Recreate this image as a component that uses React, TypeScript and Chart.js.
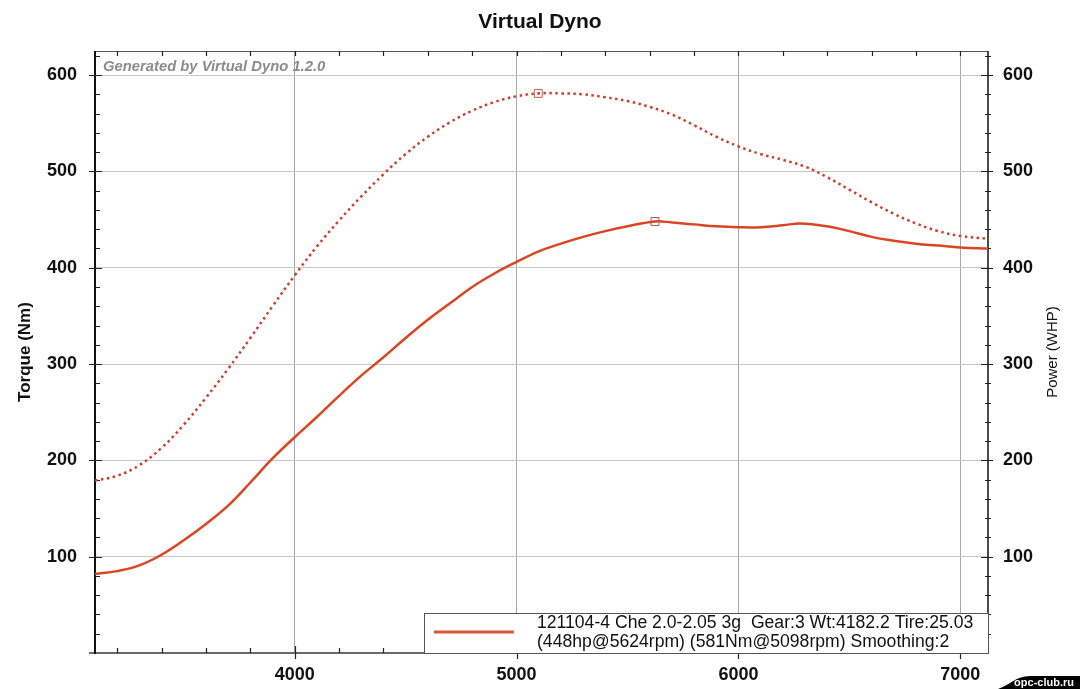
import React, { useEffect, useRef } from "react";
import { Chart, registerables } from "chart.js";

Chart.register(...registerables);

const chartTitle = "Virtual Dyno";
const watermarkText = "Generated by Virtual Dyno 1.2.0";
const legendLines = [
  "121104-4 Che 2.0-2.05 3g  Gear:3 Wt:4182.2 Tire:25.03",
  "(448hp@5624rpm) (581Nm@5098rpm) Smoothing:2",
];
const leftAxisTitle = "Torque (Nm)";
const rightAxisTitle = "Power (WHP)";
const badgeText = "opc-club.ru";

const torqueRpm = [
  3100, 3200, 3300, 3400, 3500, 3600, 3700, 3800, 3900, 4000, 4100, 4200, 4300, 4400, 4500, 4600, 4700, 4800,
  4900, 5000, 5098, 5200, 5300, 5400, 5500, 5600, 5700, 5800, 5900, 6000, 6100, 6200, 6300, 6400, 6500, 6600,
  6700, 6800, 6900, 7000, 7125,
];
const torqueNm = [
  179, 184, 195, 213, 237, 265, 295, 327, 360, 392, 422, 449, 474, 497, 518, 536, 551, 563,
  572, 578, 581, 581, 580, 577, 573, 567, 559, 548, 536, 526, 518, 512, 505, 494, 481, 468,
  456, 446, 438, 433, 430,
];
const powerRpm = [
  3100, 3200, 3300, 3400, 3500, 3600, 3700, 3800, 3900, 4000, 4100, 4200, 4300, 4400, 4500, 4600, 4700, 4800,
  4900, 5000, 5100, 5200, 5300, 5400, 5500, 5624, 5700, 5800, 5900, 6000, 6100, 6200, 6280, 6400, 6500, 6600,
  6700, 6800, 6900, 7000, 7125,
];
const powerHp = [
  82, 85, 91, 102, 117, 134, 153, 177, 202, 224, 245, 267, 288, 307, 327, 346, 363, 380,
  394, 406, 417, 425, 432, 438, 443, 448, 447, 445, 443, 442, 442, 444, 446, 443, 438, 432,
  428, 425, 423, 421, 420,
];
const torquePeakRpm = 5098;
const powerPeakRpm = 5624;

const xTickValues = [4000, 5000, 6000, 7000];
const yTickValues = [100, 200, 300, 400, 500, 600];
const xMin = 3100;
const xMax = 7125;
const yMin = 0;
const yMax = 625;
const xMinorStep = 200;
const xMajorStep = 1000;
const yMinorStep = 20;
const yMajorStep = 100;

const FONT = "'Liberation Sans', Arial, sans-serif";

const decorPlugin = {
  id: "decor",
  beforeDatasetsDraw(chart: any) {
    const ctx = chart.ctx;
    const { left, right, top, bottom } = chart.chartArea;
    ctx.save();
    // watermark
    ctx.font = `italic bold 14.8px ${FONT}`;
    ctx.fillStyle = "#8c8c8c";
    ctx.textAlign = "left";
    ctx.textBaseline = "alphabetic";
    ctx.fillText(watermarkText, left + 8, top + 20);

    // axis lines
    ctx.lineCap = "butt";
    ctx.strokeStyle = "#555";
    ctx.lineWidth = 1;
    ctx.beginPath();
    ctx.moveTo(left, top + 0.5);
    ctx.lineTo(right, top + 0.5);
    ctx.stroke();
    ctx.strokeStyle = "#6a6a6a";
    ctx.lineWidth = 2;
    ctx.beginPath();
    ctx.moveTo(left - 6, bottom);
    ctx.lineTo(right, bottom);
    ctx.stroke();
    ctx.strokeStyle = "#111";
    ctx.lineWidth = 2;
    ctx.beginPath();
    ctx.moveTo(left, top);
    ctx.lineTo(left, bottom + 1);
    ctx.stroke();
    ctx.lineWidth = 1.5;
    ctx.beginPath();
    ctx.moveTo(right, top);
    ctx.lineTo(right, bottom + 1);
    ctx.stroke();

    // x ticks (bottom & top)
    const xs = chart.scales.x;
    const ys = chart.scales.y;
    ctx.lineWidth = 1.2;
    ctx.strokeStyle = "#222";
    for (let v = Math.ceil(xMin / xMinorStep) * xMinorStep; v <= xMax; v += xMinorStep) {
      const px = Math.round(xs.getPixelForValue(v)) + 0.5;
      const major = v % xMajorStep === 0;
      ctx.beginPath();
      if (major) {
        ctx.moveTo(px, bottom - 7);
        ctx.lineTo(px, bottom + 6);
        ctx.moveTo(px, top);
        ctx.lineTo(px, top + 5);
      } else {
        ctx.moveTo(px, bottom - 5);
        ctx.lineTo(px, bottom);
        ctx.moveTo(px, top);
        ctx.lineTo(px, top + 5);
      }
      ctx.stroke();
    }
    for (let v = yMinorStep; v <= yMax; v += yMinorStep) {
      const py = Math.round(ys.getPixelForValue(v)) + 0.5;
      const major = v % yMajorStep === 0;
      ctx.beginPath();
      if (major) {
        ctx.moveTo(left - 6, py);
        ctx.lineTo(left + 7, py);
        ctx.moveTo(right - 7, py);
        ctx.lineTo(right + 5, py);
      } else {
        ctx.moveTo(left, py);
        ctx.lineTo(left + 5, py);
        ctx.moveTo(right - 3, py);
        ctx.lineTo(right + 3, py);
      }
      ctx.stroke();
    }
    ctx.restore();
  },
  afterDraw(chart: any) {
    const ctx = chart.ctx;
    const { right, top, bottom } = chart.chartArea;
    const midY = (top + bottom) / 2;
    ctx.save();
    // axis titles
    ctx.fillStyle = "#111";
    ctx.textAlign = "center";
    ctx.textBaseline = "middle";
    ctx.save();
    ctx.translate(25, midY);
    ctx.rotate(-Math.PI / 2);
    ctx.font = `bold 17px ${FONT}`;
    ctx.fillText(leftAxisTitle, 0, 0);
    ctx.restore();
    ctx.save();
    ctx.translate(1053, midY);
    ctx.rotate(-Math.PI / 2);
    ctx.font = `15px ${FONT}`;
    ctx.fillText(rightAxisTitle, 0, 0);
    ctx.restore();

    // legend box
    const bx = 424;
    const by = bottom - 40;
    ctx.fillStyle = "#fff";
    ctx.fillRect(bx, by, right - bx, bottom - by);
    ctx.strokeStyle = "#555";
    ctx.lineWidth = 1;
    ctx.strokeRect(bx + 0.5, by + 0.5, right - bx, bottom - by);
    ctx.strokeStyle = "#d9573a";
    ctx.lineWidth = 3;
    ctx.beginPath();
    ctx.moveTo(434, by + 19);
    ctx.lineTo(514, by + 19);
    ctx.stroke();
    ctx.fillStyle = "#111";
    ctx.font = `17.6px ${FONT}`;
    ctx.textAlign = "left";
    ctx.textBaseline = "middle";
    ctx.fillText(legendLines[0], 537, by + 10);
    ctx.fillText(legendLines[1], 537, by + 29.5);

    // badge
    const W = chart.width;
    const H = chart.height;
    ctx.fillStyle = "#000";
    ctx.beginPath();
    ctx.moveTo(998, H);
    ctx.bezierCurveTo(1010, H - 4, 1016, H - 13, 1030, H - 13);
    ctx.lineTo(W, H - 13);
    ctx.lineTo(W, H);
    ctx.closePath();
    ctx.fill();
    ctx.fillStyle = "#fff";
    ctx.font = `bold 11px ${FONT}`;
    ctx.textAlign = "right";
    ctx.textBaseline = "middle";
    ctx.fillText(badgeText, W - 6, H - 6);
    ctx.restore();
  },
};

export default function App() {
  const ref = useRef<HTMLCanvasElement | null>(null);
  useEffect(() => {
    if (!ref.current) return;
    const torqueData = torqueRpm.map((r, i) => ({ x: r, y: torqueNm[i] }));
    const powerData = powerRpm.map((r, i) => ({ x: r, y: powerHp[i] }));
    const chart = new Chart(ref.current, {
      type: "line",
      data: {
        datasets: [
          {
            label: "Torque",
            data: torqueData,
            yAxisID: "y",
            borderColor: "#cc3f2c",
            borderWidth: 2.5,
            borderDash: [2.5, 3.5],
            tension: 0.4,
            pointStyle: "rect",
            pointRadius: torqueRpm.map((r) => (r === torquePeakRpm ? 5.6 : 0)),
            pointBorderColor: "#c0604a",
            pointBackgroundColor: "rgba(0,0,0,0)",
            pointBorderWidth: 1,
            fill: false,
          },
          {
            label: "Power",
            data: powerData,
            yAxisID: "y2",
            borderColor: "#dc4522",
            borderWidth: 2.5,
            tension: 0.4,
            pointStyle: "rect",
            pointRadius: powerRpm.map((r) => (r === powerPeakRpm ? 5.6 : 0)),
            pointBorderColor: "#b0584a",
            pointBackgroundColor: "rgba(0,0,0,0)",
            pointBorderWidth: 1,
            fill: false,
          },
        ],
      },
      options: {
        animation: false,
        responsive: false,
        devicePixelRatio: 1,
        layout: { padding: 0 },
        plugins: {
          legend: { display: false },
          tooltip: { enabled: false },
          title: {
            display: true,
            text: chartTitle,
            color: "#111",
            font: { family: FONT, size: 21, weight: "bold" },
            padding: { top: 10, bottom: 15.8 },
          },
        },
        scales: {
          x: {
            type: "linear",
            position: "bottom",
            min: xMin,
            max: xMax,
            afterBuildTicks: (s: any) => {
              s.ticks = xTickValues.map((v) => ({ value: v }));
            },
            afterFit: (s: any) => {
              s.height = 36;
            },
            grid: { color: "#a8a8a8", lineWidth: 1, drawTicks: false },
            border: { display: false },
            ticks: {
              color: "#111",
              font: { family: FONT, size: 18, weight: "bold" },
              padding: 11,
              maxRotation: 0,
              callback: (v: any) => String(v),
            },
          },
          y: {
            type: "linear",
            position: "left",
            min: yMin,
            max: yMax,
            afterBuildTicks: (s: any) => {
              s.ticks = yTickValues.map((v) => ({ value: v }));
            },
            afterFit: (s: any) => {
              s.width = 95;
            },
            grid: { color: "#c8c8c8", lineWidth: 1, drawTicks: false },
            border: { display: false },
            ticks: {
              color: "#111",
              font: { family: FONT, size: 18, weight: "bold" },
              padding: 18,
              callback: (v: any) => String(v),
            },
          },
          y2: {
            type: "linear",
            position: "right",
            min: yMin,
            max: yMax,
            afterBuildTicks: (s: any) => {
              s.ticks = yTickValues.map((v) => ({ value: v }));
            },
            afterFit: (s: any) => {
              s.width = 92;
            },
            grid: { drawOnChartArea: false, drawTicks: false },
            border: { display: false },
            ticks: {
              color: "#111",
              font: { family: FONT, size: 18, weight: "bold" },
              padding: 15,
              callback: (v: any) => String(v),
            },
          },
        },
      },
      plugins: [decorPlugin],
    } as any);
    return () => chart.destroy();
  }, []);
  return (
    <div style={{ position: "fixed", left: 0, top: 0, width: 1080, height: 689, background: "#fff" }}>
      <canvas ref={ref} width={1080} height={689} style={{ display: "block", width: 1080, height: 689 }} />
    </div>
  );
}
